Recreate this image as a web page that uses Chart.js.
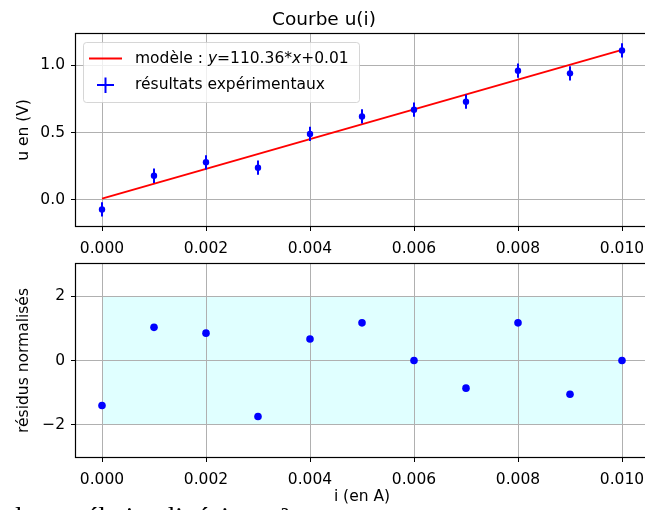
<!DOCTYPE html>
<html lang="fr">
<head>
<meta charset="utf-8">
<title>Courbe u(i)</title>
<script src="https://cdn.jsdelivr.net/npm/chart.js@4.4.1/dist/chart.umd.min.js"></script>
<style>
  html, body { margin: 0; padding: 0; background: #fff; overflow: hidden; }
  #fig { position: relative; width: 645px; height: 510px; overflow: hidden; }
  #topCanvas { position: absolute; left: 0; top: 0; }
  #botCanvas { position: absolute; left: 0; top: 240px; }
  #note { position: absolute; left: 15px; top: 503px; font-family: 'Liberation Serif', serif;
          font-size: 27.5px; line-height: 27.5px; white-space: nowrap; color: #000; }
</style>
</head>
<body>
<div id="fig">
  <canvas id="topCanvas" width="700" height="262"></canvas>
  <canvas id="botCanvas" width="700" height="270"></canvas>
  <div id="note">la corrélation linéaire : r²</div>
</div>

<script>
// --- DONNÉES ---
const courant = [0, 0.001, 0.002, 0.003, 0.004, 0.005, 0.006, 0.007, 0.008, 0.009, 0.010];
const tension = [-0.07, 0.18, 0.28, 0.24, 0.49, 0.62, 0.67, 0.73, 0.96, 0.94, 1.11];
const tensionErr = [0.053, 0.053, 0.053, 0.053, 0.053, 0.053, 0.053, 0.053, 0.053, 0.053, 0.053];
const modeleI = [0, 0.010];
const modeleU = [0.01, 1.114];
const residus = [-1.4, 1.03, 0.85, -1.74, 0.67, 1.17, 0, -0.86, 1.17, -1.05, 0];
const bandeI = [0, 0.010];
const bandeRes = [-2, 2];
const xTicks = [0, 0.002, 0.004, 0.006, 0.008, 0.010];
const uTicks = [0, 0.5, 1.0];
const resTicks = [-2, 0, 2];

const BLEU = '#0000ff';
const ROUGE = '#ff0000';
const GRILLE = '#b0b0b0';
const FONT = 'DejaVu Sans';

Chart.defaults.font.family = FONT;
Chart.defaults.font.size = 15.5;
Chart.defaults.color = '#000';
Chart.defaults.animation = false;

// cadre noir sur les 4 côtés (style matplotlib)
const cadrePlugin = {
    id: 'cadre',
    afterDatasetsDraw(chart) {
        const ctx = chart.ctx, a = chart.chartArea;
        ctx.save();
        ctx.strokeStyle = '#000';
        ctx.lineWidth = 1.2;
        ctx.strokeRect(a.left - 0.5, a.top - 0.5, a.right - a.left + 1, a.bottom - a.top + 1);
        ctx.restore();
    }
};

// barres d'erreur verticales, dessinées juste avant les points
const erreurPlugin = {
    id: 'erreurs',
    beforeDatasetDraw(chart, args) {
        if (chart.data.datasets[args.index].label !== 'résultats expérimentaux') return;
        const ctx = chart.ctx, sx = chart.scales.x, sy = chart.scales.y;
        ctx.save();
        ctx.strokeStyle = BLEU;
        ctx.lineWidth = 2;
        courant.forEach((i, k) => {
            const px = sx.getPixelForValue(i);
            ctx.beginPath();
            ctx.moveTo(px, sy.getPixelForValue(tension[k] - tensionErr[k]));
            ctx.lineTo(px, sy.getPixelForValue(tension[k] + tensionErr[k]));
            ctx.stroke();
        });
        ctx.restore();
    }
};

// légende façon matplotlib (texte avec y et x en italique)
const legendePlugin = {
    id: 'legende',
    afterDraw(chart) {
        const ctx = chart.ctx, a = chart.chartArea;
        const bx = a.left + 7, by = a.top + 8, bw = 276, bh = 60;
        ctx.save();
        ctx.fillStyle = 'rgba(255,255,255,0.8)';
        ctx.strokeStyle = 'rgba(204,204,204,0.8)';
        ctx.lineWidth = 1;
        ctx.beginPath();
        ctx.roundRect(bx + 0.5, by + 0.5, bw, bh, 3);
        ctx.fill();
        ctx.stroke();

        // ligne du modèle
        ctx.strokeStyle = ROUGE;
        ctx.lineWidth = 2;
        ctx.beginPath();
        ctx.moveTo(bx + 6, by + 16.5);
        ctx.lineTo(bx + 39, by + 16.5);
        ctx.stroke();

        // croix des résultats
        ctx.strokeStyle = BLEU;
        ctx.beginPath();
        ctx.moveTo(bx + 14, by + 43);
        ctx.lineTo(bx + 31, by + 43);
        ctx.moveTo(bx + 22.5, by + 35.5);
        ctx.lineTo(bx + 22.5, by + 51);
        ctx.stroke();

        ctx.fillStyle = '#000';
        ctx.textBaseline = 'middle';
        const morceaux = [['modèle : ', false], ['y', true], ['=110.36*', false], ['x', true], ['+0.01', false]];
        let tx = bx + 52;
        morceaux.forEach(([t, ital]) => {
            ctx.font = (ital ? 'italic ' : '') + '15.5px "' + FONT + '"';
            ctx.fillText(t, tx, by + 17);
            tx += ctx.measureText(t).width;
        });
        ctx.font = '15.5px "' + FONT + '"';
        ctx.fillText('résultats expérimentaux', bx + 52, by + 43);
        ctx.restore();
    }
};

// bande cyan |résidu| < 2, sous la grille
const bandePlugin = {
    id: 'bande',
    beforeDraw(chart) {
        const ctx = chart.ctx, sx = chart.scales.x, sy = chart.scales.y;
        const x0 = sx.getPixelForValue(bandeI[0]), x1 = sx.getPixelForValue(bandeI[1]);
        const y0 = sy.getPixelForValue(bandeRes[1]), y1 = sy.getPixelForValue(bandeRes[0]);
        ctx.save();
        ctx.fillStyle = '#e0ffff';
        ctx.fillRect(x0, y0, x1 - x0, y1 - y0);
        ctx.restore();
    }
};

function axeX(hauteur, titre) {
    return {
        type: 'linear', min: -0.0005, max: 0.0105,
        afterBuildTicks: s => { s.ticks = xTicks.map(v => ({ value: v })); },
        afterFit: s => { s.height = hauteur; },
        grid: { color: GRILLE, lineWidth: 1, tickLength: 5, tickColor: '#000', tickWidth: 1 },
        border: { display: false },
        ticks: { padding: 9, maxRotation: 0, autoSkip: false, callback: v => v.toFixed(3) },
        title: titre ? { display: true, text: titre, font: { size: 15.5 }, padding: { top: 0, bottom: 3.7 } }
                     : { display: false }
    };
}

function axeY(min, max, ticks, fmt, titre) {
    return {
        type: 'linear', min: min, max: max,
        afterBuildTicks: s => { s.ticks = ticks.map(v => ({ value: v })); },
        afterFit: s => { s.width = 76; },
        grid: { color: GRILLE, lineWidth: 1, tickLength: 5, tickColor: '#000', tickWidth: 1 },
        border: { display: false },
        ticks: { padding: 6, callback: fmt },
        title: { display: true, text: titre, font: { size: 15.5 }, padding: { top: 14.5, bottom: 0 } }
    };
}

// --- GRAPHE DU HAUT : u(i) ---
new Chart(document.getElementById('topCanvas'), {
    type: 'scatter',
    data: {
        datasets: [
            {
                label: 'résultats expérimentaux',
                data: courant.map((i, k) => ({ x: i, y: tension[k] })),
                backgroundColor: BLEU, borderColor: BLEU,
                pointRadius: 3.2, pointBorderWidth: 0, showLine: false, order: 0
            },
            {
                label: 'modèle',
                data: modeleI.map((i, k) => ({ x: i, y: modeleU[k] })),
                borderColor: ROUGE, backgroundColor: ROUGE, borderWidth: 2,
                pointRadius: 0, showLine: true, order: 1
            }
        ]
    },
    options: {
        responsive: false, devicePixelRatio: 1,
        layout: { padding: { left: 0, right: 52, top: 0, bottom: 0 } },
        plugins: {
            legend: { display: false },
            tooltip: { enabled: false },
            title: { display: true, text: 'Courbe u(i)', font: { size: 18.5, weight: 'normal', lineHeight: 1.2 },
                     color: '#000', padding: { top: 9.4, bottom: 2.4 } }
        },
        scales: {
            x: axeX(36, null),
            y: axeY(-0.193, 1.232, uTicks, v => v.toFixed(1), 'u en (V)')
        }
    },
    plugins: [erreurPlugin, cadrePlugin, legendePlugin]
});

// --- GRAPHE DU BAS : résidus normalisés ---
new Chart(document.getElementById('botCanvas'), {
    type: 'scatter',
    data: {
        datasets: [{
            label: 'résidus normalisés',
            data: courant.map((i, k) => ({ x: i, y: residus[k] })),
            backgroundColor: BLEU, borderColor: BLEU,
            pointRadius: 3.8, pointBorderWidth: 0, showLine: false
        }]
    },
    options: {
        responsive: false, devicePixelRatio: 1,
        layout: { padding: { left: 0, right: 52, top: 24, bottom: 0 } },
        plugins: { legend: { display: false }, tooltip: { enabled: false } },
        scales: {
            x: axeX(53, 'i (en A)'),
            y: axeY(-3, 3, resTicks, v => (v < 0 ? '\u2212' + Math.abs(v) : String(v)), 'résidus normalisés')
        }
    },
    plugins: [bandePlugin, cadrePlugin]
});
</script>
</body>
</html>
